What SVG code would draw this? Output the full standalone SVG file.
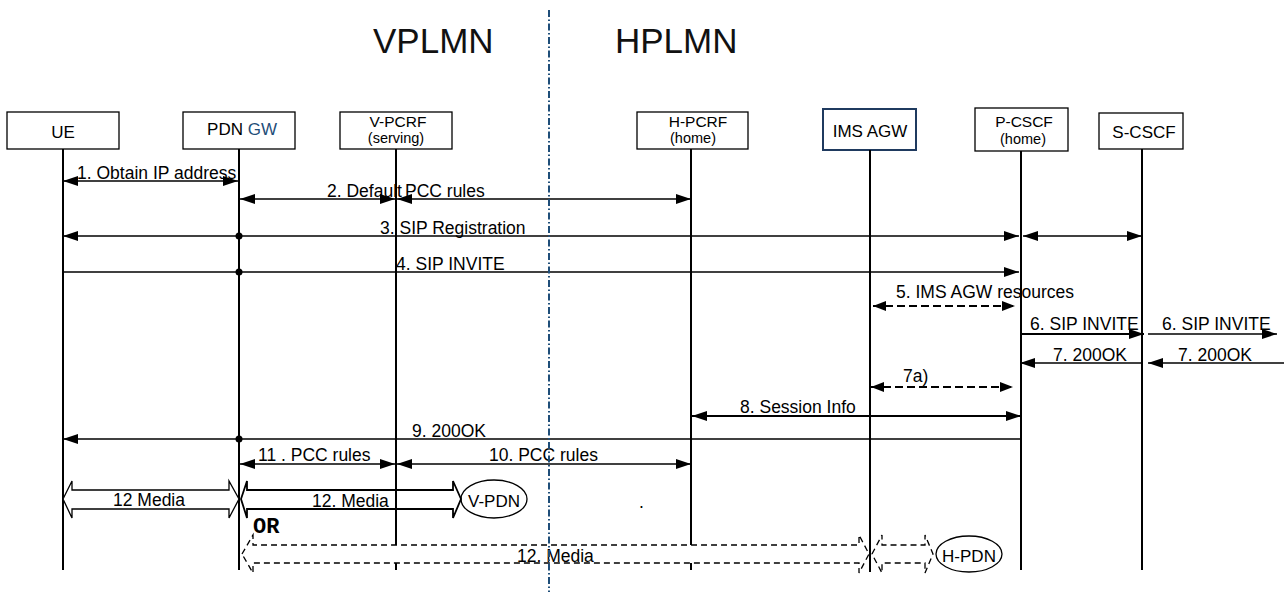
<svg xmlns="http://www.w3.org/2000/svg" width="1284" height="592" viewBox="0 0 1284 592">
<style>
text{font-family:"Liberation Sans",Arial,sans-serif;fill:#000}
.t{font-size:17.5px}
.n{font-size:17px;text-anchor:middle}
.n2{font-size:15.5px;text-anchor:middle}
.s{font-size:14.5px;text-anchor:middle}
.big{font-size:35px;fill:#111}
.box{fill:#fff;stroke:#000;stroke-width:1.3}
.ll{stroke:#000;stroke-width:2;fill:none}
.m{stroke:#000;stroke-width:1.5;fill:none}
.mt{stroke:#000;stroke-width:2.2;fill:none}
.d{stroke:#000;stroke-width:2;fill:none;stroke-dasharray:8 4}
.blk{fill:#fff;stroke:#000;stroke-width:1.3}
.blkd{fill:#fff;stroke:#000;stroke-width:1.3;stroke-dasharray:6 4}
</style>
<defs>
<marker id="ah" viewBox="0 0 15 10" refX="15" refY="5" markerWidth="15" markerHeight="10" markerUnits="userSpaceOnUse" orient="auto-start-reverse"><path d="M0,0 L15,5 L0,10 z" fill="#000"/></marker>
<marker id="ahs" viewBox="0 0 13 10" refX="13" refY="5" markerWidth="13" markerHeight="10" markerUnits="userSpaceOnUse" orient="auto-start-reverse"><path d="M0,0 L13,5 L0,10 z" fill="#000"/></marker>
</defs>
<rect width="1284" height="592" fill="#fff"/>
<text class="big" x="373" y="53">VPLMN</text>
<text class="big" x="615" y="53">HPLMN</text>

<g id="ue">
<rect class="box" x="7" y="112" width="112" height="37"/>
<text class="n" x="63" y="138">UE</text>
<line class="ll" x1="63" y1="149" x2="63" y2="570"/>
</g>
<g id="pdngw">
<rect class="box" x="183" y="112" width="112" height="37"/>
<text class="n" x="242" y="135">PDN <tspan fill="#1f4e79">GW</tspan></text>
<line class="ll" x1="239" y1="149" x2="239" y2="570"/>
</g>
<g id="vpcrf">
<rect class="box" x="340" y="112" width="112" height="37"/>
<text class="n2" x="398" y="127">V-PCRF</text>
<text class="s" x="396" y="143">(serving)</text>
<line class="ll" x1="396" y1="149" x2="396" y2="545"/>
<line class="ll" x1="396" y1="563" x2="396" y2="570"/>
</g>
<g id="hpcrf">
<rect class="box" x="637" y="112" width="111" height="37"/>
<text class="n2" x="698" y="127">H-PCRF</text>
<text class="s" x="693" y="143">(home)</text>
<line class="ll" x1="691" y1="149" x2="691" y2="545"/>
<line class="ll" x1="691" y1="563" x2="691" y2="570"/>
</g>
<g id="imsagw">
<rect x="823" y="109" width="93" height="41" fill="#fff" stroke="#1f3a5f" stroke-width="2"/>
<text class="n" x="870" y="137">IMS AGW</text>
<line class="ll" x1="870" y1="150" x2="870" y2="572"/>
</g>
<g id="pcscf">
<rect class="box" x="975" y="108" width="93" height="43"/>
<text class="n2" x="1024" y="127">P-CSCF</text>
<text class="s" x="1023" y="144">(home)</text>
<line class="ll" x1="1021" y1="151" x2="1021" y2="570"/>
</g>
<g id="scscf">
<rect class="box" x="1099" y="113" width="84" height="36"/>
<text class="n" x="1144" y="138">S-CSCF</text>
<line class="ll" x1="1142" y1="149" x2="1142" y2="570"/>
</g>
<g id="vpdn">
<ellipse cx="494" cy="499" rx="33" ry="19" fill="#fff" stroke="#000" stroke-width="1.3"/>
<text class="n" x="494" y="507">V-PDN</text>
</g>
<g id="hpdn">
<ellipse cx="969" cy="554" rx="33" ry="18" fill="#fff" stroke="#000" stroke-width="1.3"/>
<text class="n" x="969" y="562">H-PDN</text>
</g>

<g id="connectors">
<line class="m" x1="63" y1="181" x2="238" y2="181" marker-start="url(#ah)" marker-end="url(#ah)"/>
<line class="m" x1="240" y1="199" x2="395" y2="199" marker-start="url(#ah)" marker-end="url(#ah)"/>
<line class="m" x1="397" y1="199" x2="691" y2="199" marker-start="url(#ah)" marker-end="url(#ah)"/>
<line class="m" x1="63" y1="236" x2="1019" y2="236" marker-start="url(#ah)" marker-end="url(#ah)"/>
<circle cx="239" cy="236" r="3.5" fill="#000"/>
<line class="m" x1="1023" y1="236" x2="1142" y2="236" marker-start="url(#ah)" marker-end="url(#ah)"/>
<line class="m" x1="63" y1="272" x2="1019" y2="272" marker-end="url(#ah)"/>
<circle cx="239" cy="272" r="3.5" fill="#000"/>
<line class="d" x1="873" y1="306" x2="1015" y2="306" marker-start="url(#ahs)" marker-end="url(#ahs)"/>
<line class="mt" x1="1020" y1="334" x2="1144" y2="334" marker-end="url(#ah)"/>
<line class="m" x1="1148" y1="334" x2="1277" y2="334" marker-end="url(#ah)"/>
<line class="m" x1="1142" y1="363" x2="1020" y2="363" marker-end="url(#ah)"/>
<line class="m" x1="1284" y1="363" x2="1148" y2="363" marker-end="url(#ah)"/>
<line class="d" x1="871" y1="387" x2="1013" y2="387" marker-start="url(#ahs)" marker-end="url(#ahs)"/>
<line class="mt" x1="692" y1="416" x2="1021" y2="416" marker-start="url(#ah)" marker-end="url(#ah)"/>
<line class="m" x1="1021" y1="439" x2="63" y2="439" marker-end="url(#ah)"/>
<circle cx="239" cy="439" r="3.5" fill="#000"/>
<line class="m" x1="240" y1="464" x2="395" y2="464" marker-start="url(#ah)" marker-end="url(#ah)"/>
<line class="m" x1="397" y1="464" x2="691" y2="464" marker-start="url(#ah)" marker-end="url(#ah)"/>
<path class="blk" d="M63,499 L72,481 L72,490 L229,490 L229,481 L239,499 L229,518 L229,509 L72,509 L72,518 Z"/>
<path d="M241,499 L247,481 L247,490 L453,490 L453,481 L461,499 L453,518 L453,509 L247,509 L247,518 Z" fill="none" stroke="#000" stroke-width="1.8"/>
<path class="blkd" d="M242,554 L253,535 L253,545 L859,545 L859,535 L869,554 L859,573 L859,563 L253,563 L253,573 Z"/>
<path class="blkd" d="M872,554 L882,535 L882,545 L925,545 L925,535 L933,554 L925,573 L925,563 L882,563 L882,573 Z"/>
<line x1="870" y1="545" x2="870" y2="563" stroke="#000" stroke-width="2"/>
</g>

<g id="labels">
<text class="t" x="77" y="179">1. Obtain IP address</text>
<text class="t" x="327" y="197">2. Default<tspan x="405">PCC rules</tspan></text>
<text class="t" x="380" y="234">3. SIP Registration</text>
<text class="t" x="396" y="270">4. SIP INVITE</text>
<text class="t" x="896" y="298">5. IMS AGW resources</text>
<text class="t" x="1030" y="330">6. SIP INVITE</text>
<text class="t" x="1162" y="330">6. SIP INVITE</text>
<text class="t" x="1053" y="361">7. 200OK</text>
<text class="t" x="1178" y="361">7. 200OK</text>
<text class="t" x="903" y="382">7a)</text>
<text class="t" x="740" y="413">8. Session Info</text>
<text class="t" x="412" y="437">9. 200OK</text>
<text class="t" x="258" y="461">11 . PCC rules</text>
<text class="t" x="489" y="461">10. PCC rules</text>
<text class="t" x="113" y="506">12 Media</text>
<text class="t" x="312" y="507">12. Media</text>
<text class="t" x="517" y="562">12. Media</text>
<text class="t" x="639" y="508">.</text>
<text x="253" y="533" style="font-family:'Liberation Mono','Courier New',monospace;font-size:22px;font-weight:bold">OR</text>
</g>

<line x1="549" y1="10" x2="549" y2="592" stroke="#1f4e79" stroke-width="2" stroke-dasharray="7 2.5 1.5 2.5"/>
</svg>
